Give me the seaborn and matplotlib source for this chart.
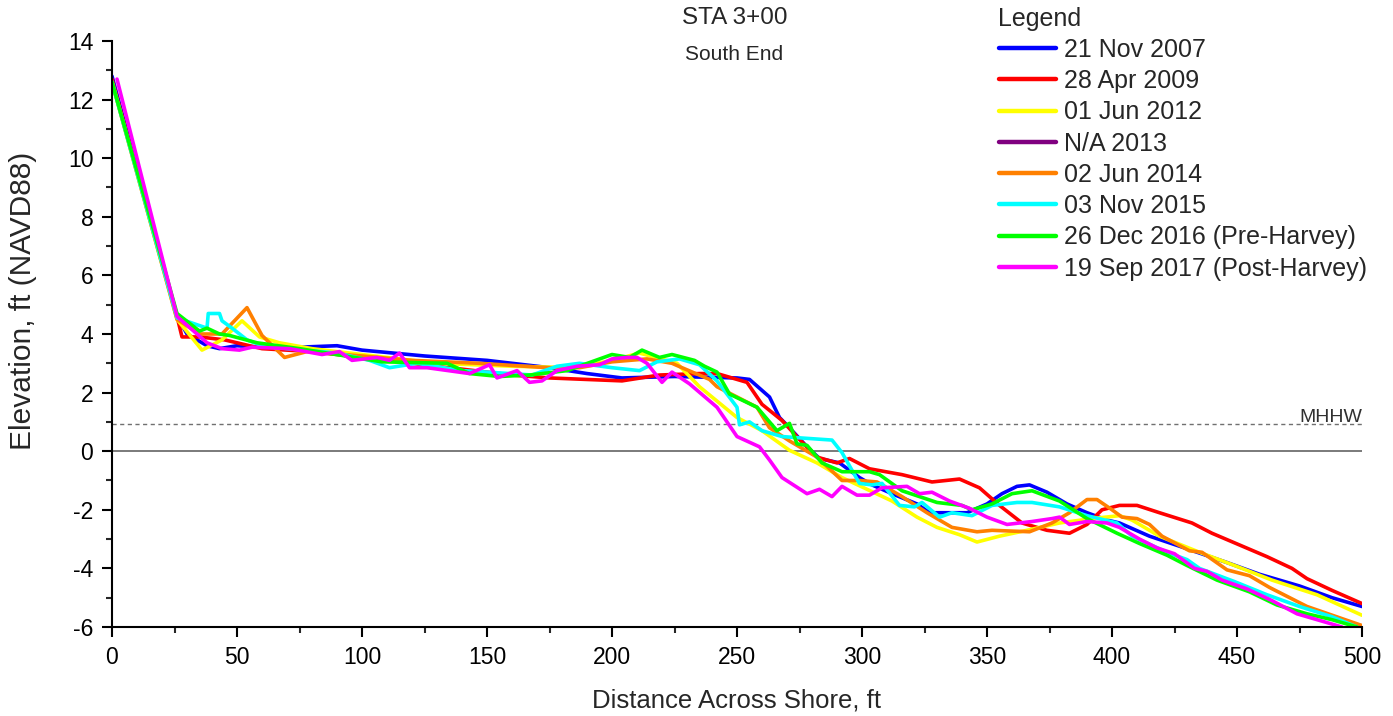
import numpy as np
import pandas as pd
import matplotlib
matplotlib.use("Agg")
import matplotlib.pyplot as plt
import seaborn as sns

# --- Survey profiles (distance ft, elevation ft NAVD88) ---
labels = ["21 Nov 2007", "28 Apr 2009", "01 Jun 2012", "N/A 2013", "02 Jun 2014",
          "03 Nov 2015", "26 Dec 2016 (Pre-Harvey)", "19 Sep 2017 (Post-Harvey)"]
colors = ["#0000ff", "#ff0000", "#ffff00", "#800080", "#ff8000", "#00ffff", "#00ff00", "#ff00ff"]

x_2007 = [0, 26, 30, 38, 43, 50, 60, 75, 90, 100, 125, 150, 175, 190, 204, 225, 250, 255, 263, 267,
          271, 278, 283, 291, 299, 304, 312, 322, 327, 334, 342, 350, 356, 362, 367, 374, 382, 390,
          398, 403, 415, 429, 446, 459, 475, 488, 500]
y_2007 = [12.8, 4.6, 4.0, 3.6, 3.5, 3.6, 3.55, 3.55, 3.6, 3.45, 3.25, 3.1, 2.85, 2.65, 2.5, 2.55,
          2.5, 2.45, 1.85, 1.15, 0.8, 0.15, -0.25, -0.4, -0.9, -1.15, -1.45, -1.8, -2.1, -2.1, -2.1,
          -1.8, -1.45, -1.2, -1.15, -1.4, -1.8, -2.1, -2.35, -2.45, -2.9, -3.3, -3.8, -4.2, -4.6,
          -5.0, -5.3]

x_2009 = [0, 26, 28, 35, 45, 60, 80, 100, 130, 160, 175, 204, 219, 235, 242, 254, 260, 268, 275,
          282, 290, 295, 303, 316, 328, 339, 347, 355, 364, 374, 383, 390, 396, 403, 410, 419, 432,
          440, 451, 462, 472, 478, 488, 500]
y_2009 = [12.7, 4.6, 3.9, 3.9, 3.8, 3.5, 3.4, 3.2, 2.9, 2.6, 2.5, 2.4, 2.6, 2.65, 2.65, 2.35, 1.6,
          1.05, 0.4, -0.2, -0.4, -0.25, -0.6, -0.8, -1.05, -0.95, -1.25, -1.85, -2.45, -2.7, -2.8,
          -2.5, -2.0, -1.85, -1.85, -2.1, -2.45, -2.8, -3.2, -3.6, -4.0, -4.35, -4.75, -5.2]

x_2012 = [0, 26, 36, 44, 52, 59, 67, 80, 100, 130, 160, 185, 200, 211, 226, 235, 250, 260, 271,
          282, 292, 312, 322, 330, 339, 346, 355, 366, 379, 392, 403, 408, 419, 435, 449, 464, 482, 500]
y_2012 = [12.6, 4.5, 3.45, 3.8, 4.45, 3.9, 3.7, 3.5, 3.3, 3.0, 2.9, 2.85, 3.1, 3.35, 3.0, 2.2, 1.15,
          0.7, 0.03, -0.4, -0.9, -1.7, -2.25, -2.6, -2.85, -3.1, -2.9, -2.7, -2.45, -2.3, -2.2, -2.35,
          -2.9, -3.45, -3.9, -4.4, -4.9, -5.6]

x_2014 = [0, 26, 35, 44, 54, 60, 69, 78, 100, 120, 147, 174, 187, 200, 214, 224, 228, 239, 242, 258,
          263, 271, 282, 292, 299, 306, 316, 326, 336, 346, 352, 367, 376, 383, 390, 394, 400, 404,
          410, 415, 420, 431, 436, 446, 455, 463, 478, 500]
y_2014 = [12.6, 4.5, 4.0, 4.0, 4.9, 3.95, 3.2, 3.4, 3.25, 3.1, 3.0, 2.85, 2.85, 3.05, 3.15, 3.0, 2.85,
          2.45, 2.2, 1.5, 0.8, 0.35, -0.2, -1.0, -1.0, -1.05, -1.55, -2.1, -2.6, -2.75, -2.7, -2.75,
          -2.45, -2.1, -1.65, -1.65, -2.0, -2.25, -2.3, -2.5, -2.9, -3.4, -3.45, -4.05, -4.25, -4.65,
          -5.3, -5.95]

x_2015 = [0, 26, 38, 38.5, 43, 44, 48, 54, 60, 70, 90, 103, 111, 122, 140, 150, 168, 178, 187, 200,
          211, 218, 227, 235, 242, 250, 251, 255, 260, 268, 276, 288, 292, 299, 304, 308, 315, 321,
          324, 331, 336, 344, 352, 362, 368, 379, 390, 402, 408, 422, 430, 435, 449, 462, 475, 488, 498]
y_2015 = [12.6, 4.55, 4.2, 4.7, 4.7, 4.45, 4.2, 3.8, 3.6, 3.5, 3.35, 3.1, 2.85, 3.0, 2.75, 2.7, 2.6,
          2.9, 3.0, 2.85, 2.75, 3.05, 3.15, 2.95, 2.4, 1.5, 0.9, 1.0, 0.7, 0.5, 0.45, 0.38, -0.05,
          -1.1, -1.15, -1.1, -1.85, -1.9, -1.75, -2.25, -2.1, -2.2, -1.85, -1.75, -1.75, -1.9, -2.2,
          -2.45, -2.9, -3.45, -3.7, -4.0, -4.45, -4.9, -5.3, -5.65, -6.0]

x_2016 = [0, 26, 35, 38, 43, 47, 58, 75, 108, 134, 143, 155, 167, 182, 200, 207, 212, 219, 224, 233,
          237, 242, 247, 258, 266, 271, 274, 278, 284, 292, 303, 307, 316, 330, 340, 344, 352, 360,
          368, 379, 390, 402, 411, 422, 430, 442, 455, 466, 478, 488, 498]
y_2016 = [12.6, 4.7, 4.1, 4.2, 4.0, 3.95, 3.7, 3.5, 3.05, 3.0, 2.65, 2.55, 2.6, 2.75, 3.3, 3.2, 3.45,
          3.2, 3.3, 3.1, 2.9, 2.7, 1.95, 1.5, 0.7, 0.95, 0.25, 0.2, -0.4, -0.7, -0.7, -0.8, -1.35,
          -1.75, -1.85, -2.0, -1.8, -1.45, -1.35, -1.7, -2.3, -2.8, -3.15, -3.55, -3.9, -4.4, -4.8,
          -5.25, -5.55, -5.75, -6.0]

x_2017 = [2, 26, 38, 44, 51, 56, 71, 84, 91, 96, 106, 111, 115, 119, 126, 143, 151, 154, 162, 167,
          172, 178, 186, 195, 200, 206, 210, 214, 220, 224, 231, 242, 250, 259, 263, 268, 278, 283,
          288, 292, 298, 303, 308, 318, 323, 328, 335, 343, 350, 358, 368, 376, 379, 383, 390, 398,
          403, 411, 418, 425, 433, 438, 444, 454, 464, 474, 482, 492]
y_2017 = [12.7, 4.6, 3.7, 3.5, 3.45, 3.55, 3.5, 3.3, 3.4, 3.1, 3.2, 3.1, 3.35, 2.85, 2.85, 2.65,
          2.95, 2.5, 2.75, 2.35, 2.4, 2.75, 2.9, 2.95, 3.15, 3.2, 3.2, 3.0, 2.35, 2.7, 2.3, 1.5, 0.5,
          0.15, -0.3, -0.9, -1.45, -1.3, -1.55, -1.2, -1.5, -1.5, -1.25, -1.2, -1.45, -1.4, -1.7,
          -1.95, -2.25, -2.5, -2.4, -2.3, -2.25, -2.5, -2.4, -2.45, -2.6, -3.0, -3.3, -3.5, -4.0,
          -4.1, -4.4, -4.7, -5.1, -5.55, -5.75, -6.0]

mhhw = 0.92

profiles = {
    "21 Nov 2007": (x_2007, y_2007),
    "28 Apr 2009": (x_2009, y_2009),
    "01 Jun 2012": (x_2012, y_2012),
    "02 Jun 2014": (x_2014, y_2014),
    "03 Nov 2015": (x_2015, y_2015),
    "26 Dec 2016 (Pre-Harvey)": (x_2016, y_2016),
    "19 Sep 2017 (Post-Harvey)": (x_2017, y_2017),
}

frames = []
for name, (xs, ys) in profiles.items():
    frames.append(pd.DataFrame({"dist": xs, "elev": ys, "survey": name}))
df = pd.concat(frames, ignore_index=True)

sns.set_style("ticks")
plt.rcParams["font.family"] = ["Liberation Sans", "DejaVu Sans"]
plt.rcParams["axes.unicode_minus"] = False

fig = plt.figure(figsize=(13.93, 7.16), dpi=100)
ax = fig.add_axes([112 / 1393, 1 - 627 / 716, 1250 / 1393, 586 / 716])

# reference lines
ax.axhline(0, color="#707070", lw=1.3, zorder=1)
ax.axhline(mhhw, color="#707070", lw=1.0, ls=(0, (3, 2.5)), zorder=1)
ax.text(500, mhhw - 0.06, "MHHW", ha="right", va="bottom", fontsize=14, color="#303030")

palette = dict(zip(labels, colors))
for name in labels:
    if name in profiles:
        sns.lineplot(data=df[df["survey"] == name], x="dist", y="elev", color=palette[name],
                     lw=2.6, sort=False, estimator=None, label=name, ax=ax, legend=False)
    else:
        ax.plot([], [], color=palette[name], lw=2.6, label=name)

ax.set_xlim(0, 500)
ax.set_ylim(-6, 14)
ax.set_xticks(np.arange(0, 501, 50))
ax.set_xticks(np.arange(0, 501, 25), minor=True)
ax.set_yticks(np.arange(-6, 15, 2))
ax.set_yticks(np.arange(-6, 15, 1), minor=True)
ax.tick_params(which="major", length=7.5, width=1.5, labelsize=16.5, pad=6, direction="out",
               colors="black")
ax.tick_params(which="minor", length=4.5, width=1.5, direction="out")
sns.despine(ax=ax)
for s in ["left", "bottom"]:
    ax.spines[s].set_linewidth(1.5)
    ax.spines[s].set_color("black")

ax.set_xlabel("Distance Across Shore, ft", fontsize=18.5, labelpad=14)
ax.set_ylabel("Elevation, ft (NAVD88)", fontsize=21.5, labelpad=22)
ax.yaxis.label.set_y((627 - 301) / 586)

fig.text(735 / 1393, 1 - 18 / 716, "STA 3+00", ha="center", va="center", fontsize=17.5)
fig.text(734 / 1393, 1 - 55 / 716, "South End", ha="center", va="center", fontsize=15)

handles, lbls = ax.get_legend_handles_labels()
order = [lbls.index(l) for l in labels]
leg = fig.legend([handles[i] for i in order], labels, loc="upper left",
                 bbox_to_anchor=(981 / 1393, 1 + 11 / 716), frameon=False, title="Legend",
                 fontsize=18, title_fontsize=18, handlelength=2.3, handletextpad=0.32,
                 labelspacing=0.29, borderpad=0.2, alignment="left")
for h in leg.get_lines():
    h.set_linewidth(3.2)

fig.savefig("out.png", dpi=100)
